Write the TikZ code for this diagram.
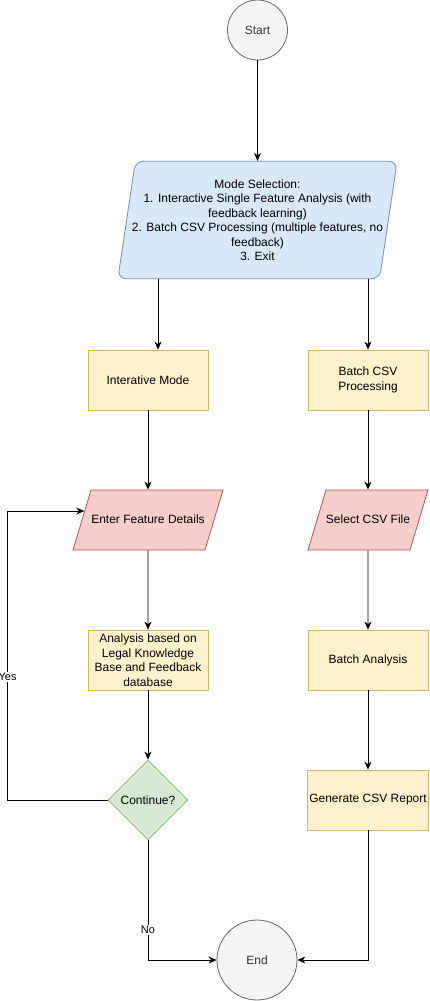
\documentclass[tikz,border=0pt]{standalone}
\usepackage{fontspec}
\setmainfont{Liberation Sans}
\usetikzlibrary{shapes.geometric,arrows.meta}

\definecolor{greyfill}{HTML}{F5F5F5}
\definecolor{greyline}{HTML}{666666}
\definecolor{greytext}{HTML}{333333}
\definecolor{bluefill}{HTML}{DAE8FC}
\definecolor{blueline}{HTML}{6C8EBF}
\definecolor{yellowfill}{HTML}{FFF2CC}
\definecolor{yellowline}{HTML}{D6B656}
\definecolor{redfill}{HTML}{F8CECC}
\definecolor{redline}{HTML}{B85450}
\definecolor{greenfill}{HTML}{D5E8D4}
\definecolor{greenline}{HTML}{82B366}

\tikzset{
  base/.style={font=\fontsize{12}{14.5}\selectfont, align=center, line width=0.8pt},
  terminal/.style={base, circle, draw=greyline, fill=greyfill, text=greytext, inner sep=0pt},
  process/.style={base, rectangle, draw=yellowline, fill=yellowfill, minimum width=120pt, minimum height=60pt, inner sep=2pt},
  io/.style={base, trapezium, trapezium left angle=73.3, trapezium right angle=106.7, trapezium stretches body=true,
             draw=redline, fill=redfill, text height=8.5pt, text depth=2.5pt, inner xsep=0pt, inner ysep=24.5pt},
  decision/.style={base, diamond, draw=greenline, fill=greenfill, minimum width=80pt, minimum height=80pt, inner sep=0pt},
  flow/.style={-{Stealth[length=8pt,width=7pt,inset=2.5pt]}, line width=0.8pt},
  edgelabel/.style={fill=white, font=\fontsize{11}{13}\selectfont, inner sep=1pt}
}

\begin{document}
\begin{tikzpicture}[x=1pt,y=-1pt]
        \useasboundingbox (0,0) rectangle (429,1001);
        \node[terminal, minimum size=60pt] at (257.5,30) (start) {Start};
        \node[base, trapezium, trapezium left angle=81.5, trapezium right angle=98.5, trapezium stretches body=true,
              rounded corners=8pt, draw=blueline, fill=bluefill, inner xsep=-3.5pt, inner ysep=18pt]
              at (257.5,220) (mode) {Mode Selection:\\1. Interactive Single Feature Analysis (with\\feedback learning)\\2. Batch CSV Processing (multiple features, no\\feedback)\\3. Exit};
        \node[process] at (148,380) (inter) {Interative Mode};
        \node[process] at (368,380) (batch) {Batch CSV\\Processing};
        \node[io, minimum width=150pt] at (148,520) (enter) {Enter Feature Details};
        \node[io, minimum width=120pt] at (368,520) (select) {Select CSV File};
        \node[process] at (148,660) (analysis) {Analysis based on\\Legal Knowledge\\Base and Feedback\\database};
        \node[process] at (368,660) (batchan) {Batch Analysis};
        \node[decision] at (148,800) (cont) {Continue?};
        \node[process] at (368,800) (report) {Generate CSV Report};
        \node[terminal, minimum size=80pt] at (257,960) (stop) {End};
        \draw[flow] (start) -- (mode);
        \draw[flow] ([xshift=10pt]inter.north |- mode.south) -- ([xshift=10pt]inter.north);
        \draw[flow] (batch.north |- mode.south) -- (batch);
        \draw[flow] (inter) -- (enter);
        \draw[flow] (batch) -- (select);
        \draw[flow] (enter) -- (analysis);
        \draw[flow] (select) -- (batchan);
        \draw[flow] (analysis) -- (cont);
        \draw[flow] (batchan) -- (report);
        \draw[flow] (cont.west) -- ++(-100pt,0) |- node[edgelabel, pos=0.213] {Yes} (enter.172);
        \draw[flow] (cont.south) |- node[edgelabel, pos=0.375] {No} (stop.west);
        \draw[flow] (report.south) |- (stop.east);
      \end{tikzpicture}
\end{document}
